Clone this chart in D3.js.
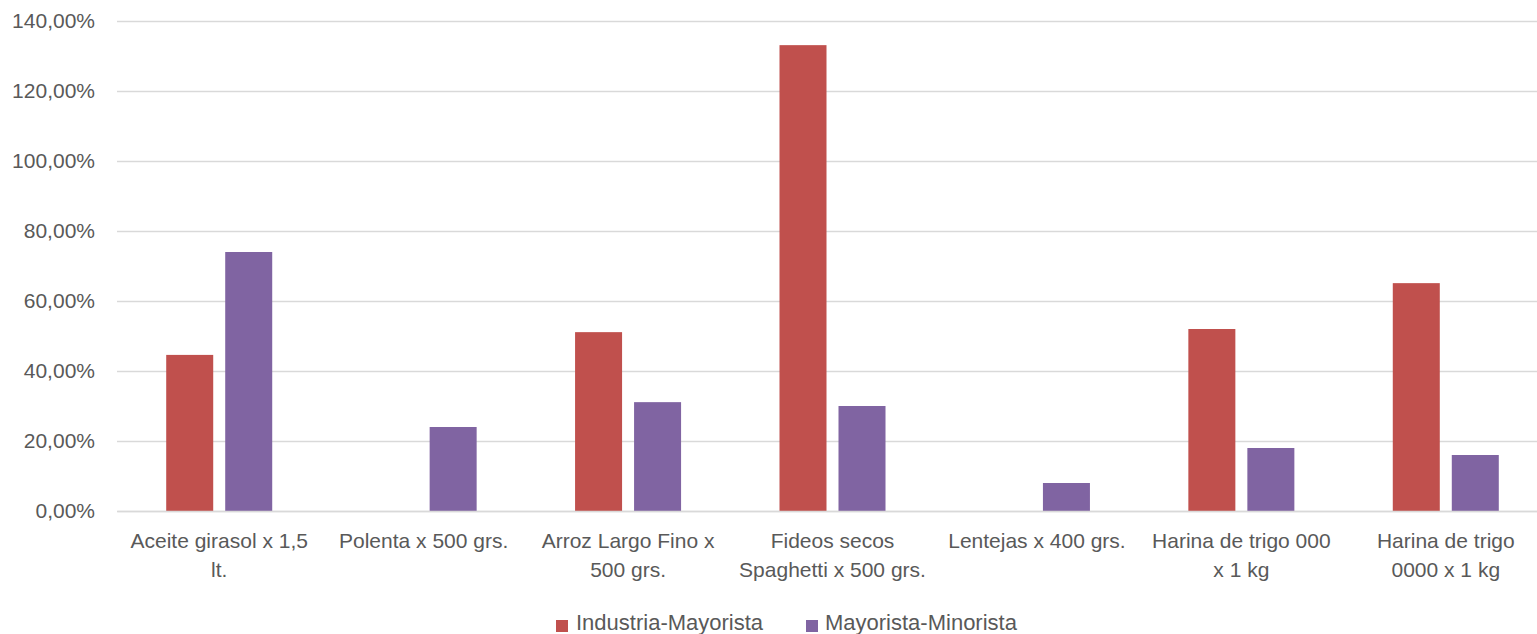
<!DOCTYPE html>
<html>
<head>
<meta charset="utf-8">
<script src="https://cdn.jsdelivr.net/npm/d3@7"></script>
<style>
  html, body { margin: 0; padding: 0; background: #fff; }
  svg { display: block; font-family: "Liberation Sans", Arial, sans-serif; }
</style>
</head>
<body>
<svg id="chart" width="1537" height="634"></svg>
<script>
const categories = [
  "Aceite girasol x 1,5\nlt.",
  "Polenta x 500 grs.",
  "Arroz Largo Fino x\n500 grs.",
  "Fideos secos\nSpaghetti x 500 grs.",
  "Lentejas x 400 grs.",
  "Harina de trigo 000\nx 1 kg",
  "Harina de trigo\n0000 x 1 kg"
];
const seriesNames = ["Industria-Mayorista", "Mayorista-Minorista"];
const industriaMayorista = [44.6, null, 51.1, 133.1, null, 52.0, 65.1];
const mayoristaMinorista = [74.0, 24.0, 31.1, 30.0, 8.0, 18.0, 16.0];
const seriesColors = ["#C0504D", "#8064A2"];
const yTicks = [0, 20, 40, 60, 80, 100, 120, 140];

const seriesValues = [industriaMayorista, mayoristaMinorista];
const svg = d3.select("#chart");

const mLeft = 117, mRight = 1548, mTop = 21, mBottom = 511;

const y = d3.scaleLinear().domain([0, 140]).range([mBottom, mTop]);
const x0 = d3.scaleBand().domain(categories).range([mLeft, mRight]).paddingInner(0).paddingOuter(0);
const x1 = d3.scaleBand().domain(seriesNames).range([0, x0.bandwidth()])
  .paddingInner(12 / 59).paddingOuter(0.834);

const fmt = v => v.toFixed(2).replace(".", ",") + "%";

// gridlines
const yAxis = d3.axisLeft(y).tickValues(yTicks).tickSize(-(mRight - mLeft)).tickFormat(fmt).tickPadding(22);
const gy = svg.append("g").attr("transform", `translate(${mLeft},0)`).call(yAxis);
gy.select(".domain").remove();
gy.selectAll(".tick line").attr("stroke", "#d9d9d9").attr("stroke-width", 1.5);
gy.selectAll(".tick text").attr("fill", "#595959").attr("font-size", "21px")
  .attr("font-family", "'Liberation Sans', Arial, sans-serif");

// bars
const groups = svg.append("g").selectAll("g")
  .data(seriesNames.map((name, i) => ({ name, i })))
  .join("g").attr("fill", d => seriesColors[d.i]);
groups.selectAll("rect")
  .data(d => categories.map((c, k) => ({ c, v: seriesValues[d.i][k], name: d.name })).filter(e => e.v != null))
  .join("rect")
  .attr("x", e => x0(e.c) + x1(e.name))
  .attr("width", x1.bandwidth())
  .attr("y", e => y(e.v))
  .attr("height", e => y(0) - y(e.v));

// x axis
const xAxis = d3.axisBottom(x0).tickSize(0).tickFormat("");
const gx = svg.append("g").attr("transform", `translate(0,${mBottom})`).call(xAxis);
gx.select(".domain").attr("stroke", "#d9d9d9").attr("stroke-width", 1.5);
gx.selectAll(".tick").each(function(d) {
  const t = d3.select(this).append("text")
    .attr("fill", "#595959").attr("font-size", "21px").attr("text-anchor", "middle")
    .attr("font-family", "'Liberation Sans', Arial, sans-serif");
  d.split("\n").forEach((line, i) => {
    t.append("tspan").attr("x", 0).attr("y", 37 + i * 29).text(line);
  });
});

// legend
const legendItems = [{ x: 556, tx: 576 }, { x: 806, tx: 825 }];
const lg = svg.append("g");
seriesNames.forEach((name, i) => {
  lg.append("rect").attr("x", legendItems[i].x).attr("y", 620).attr("width", 12).attr("height", 12)
    .attr("fill", seriesColors[i]);
  lg.append("text").attr("x", legendItems[i].tx).attr("y", 630)
    .attr("fill", "#595959").attr("font-size", "22px").text(name);
});
</script>
</body>
</html>
